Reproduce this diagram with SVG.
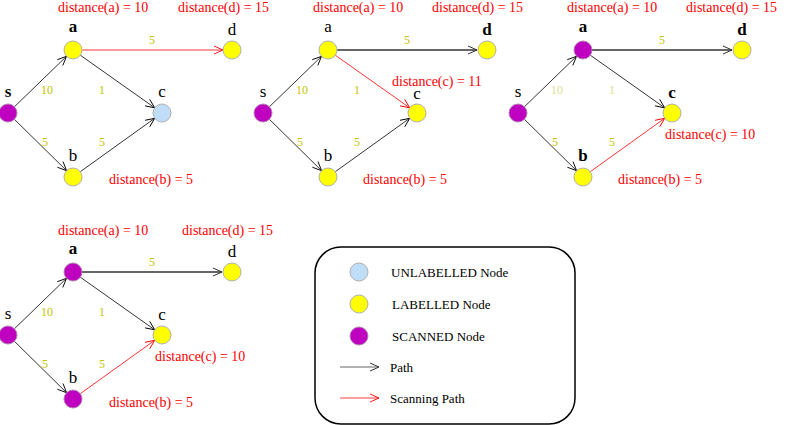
<svg xmlns="http://www.w3.org/2000/svg" width="800" height="425" viewBox="0 0 800 425">
<style>
text{font-family:"Liberation Serif","Times New Roman",serif}
.lbl{font-size:17px;fill:#000;text-anchor:middle}
.b{font-weight:bold}
.w{font-size:12px;fill:#c4c400;text-anchor:middle}
.wp{fill:#dede90}
.dist{font-size:14px;fill:#ff0000}
.leg{font-size:13px;fill:#000}
.e{fill:none;stroke:#000;stroke-width:0.8}
.er{fill:none;stroke:#ff0000;stroke-width:0.8}
.eg{fill:none;stroke:#666;stroke-width:2}
.un{fill:#c0ddf8;stroke:#b0b0b0;stroke-width:1}
.la{fill:#ffff00;stroke:#b0b0b0;stroke-width:1}
.sc{fill:#c000c0;stroke:#b080b0;stroke-width:1}
</style>
<defs>
<marker id="ak" markerUnits="userSpaceOnUse" markerWidth="12" markerHeight="10" refX="0" refY="0" viewBox="-10 -5 12 10" orient="auto" overflow="visible"><path d="M-9,-4 L0,0 L-9,4" fill="none" stroke="#000" stroke-width="0.9"/></marker>
<marker id="ar" markerUnits="userSpaceOnUse" markerWidth="12" markerHeight="10" refX="0" refY="0" viewBox="-10 -5 12 10" orient="auto" overflow="visible"><path d="M-9,-4 L0,0 L-9,4" fill="none" stroke="#ff0000" stroke-width="0.9"/></marker>
<marker id="ag" markerUnits="userSpaceOnUse" markerWidth="12" markerHeight="10" refX="0" refY="0" viewBox="-10 -5 12 10" orient="auto" overflow="visible"><path d="M-9,-4 L0,0 L-9,4" fill="none" stroke="#333" stroke-width="1"/></marker>
</defs>

<!-- Graph 1 -->
<g id="graph1">
<g id="g1-connectors">
<line class="e" x1="14.5" y1="106.7" x2="66.5" y2="56.3" marker-end="url(#ak)"/>
<line class="e" x1="80.3" y1="55.2" x2="154.7" y2="107.8" marker-end="url(#ak)"/>
<line class="e" x1="14.4" y1="119.3" x2="66.6" y2="170.7" marker-end="url(#ak)"/>
<line class="e" x1="80.3" y1="171.7" x2="154.7" y2="118.3" marker-end="url(#ak)"/>
<line class="er" x1="82" y1="50" x2="223" y2="50" marker-end="url(#ar)"/>
<text class="w" x="152" y="44">5</text>
<text class="w" x="47" y="94">10</text>
<text class="w" x="102" y="94">1</text>
<text class="w" x="45" y="146">5</text>
<text class="w" x="102" y="146">5</text>
</g>
<g id="g1-s"><circle class="sc" cx="8" cy="113" r="9"/><text class="lbl b" x="8" y="97">s</text></g>
<g id="g1-a"><circle class="la" cx="73" cy="50" r="9"/><text class="lbl b" x="73" y="32">a</text></g>
<g id="g1-d"><circle class="la" cx="232" cy="50" r="9"/><text class="lbl" x="232" y="35">d</text></g>
<g id="g1-c"><circle class="un" cx="162" cy="113" r="9"/><text class="lbl" x="162" y="97">c</text></g>
<g id="g1-b"><circle class="la" cx="73" cy="177" r="9"/><text class="lbl" x="73" y="161">b</text></g>
<text class="dist" x="58" y="12">distance(a) = 10</text>
<text class="dist" x="178" y="12">distance(d) = 15</text>
<text class="dist" x="109" y="184">distance(b) = 5</text>
</g>

<!-- Graph 2 -->
<g id="graph2" transform="translate(255,0)">
<g id="g2-connectors">
<line class="e" x1="14.5" y1="106.7" x2="66.5" y2="56.3" marker-end="url(#ak)"/>
<line class="er" x1="80.3" y1="55.2" x2="154.7" y2="107.8" marker-end="url(#ar)"/>
<line class="e" x1="14.4" y1="119.3" x2="66.6" y2="170.7" marker-end="url(#ak)"/>
<line class="e" x1="80.3" y1="171.7" x2="154.7" y2="118.3" marker-end="url(#ak)"/>
<line class="eg" x1="82" y1="50" x2="222" y2="50" marker-end="url(#ag)"/>
<text class="w" x="152" y="44">5</text>
<text class="w" x="47" y="94">10</text>
<text class="w" x="102" y="94">1</text>
<text class="w" x="45" y="146">5</text>
<text class="w" x="102" y="146">5</text>
</g>
<g id="g2-s"><circle class="sc" cx="8" cy="113" r="9"/><text class="lbl" x="8" y="97">s</text></g>
<g id="g2-a"><circle class="la" cx="73" cy="50" r="9"/><text class="lbl" x="73" y="32">a</text></g>
<g id="g2-d"><circle class="la" cx="232" cy="50" r="9"/><text class="lbl b" x="232" y="35">d</text></g>
<g id="g2-c"><circle class="la" cx="162" cy="113" r="9"/><text class="lbl" x="162" y="99">c</text></g>
<g id="g2-b"><circle class="la" cx="73" cy="177" r="9"/><text class="lbl" x="73" y="161">b</text></g>
<text class="dist" x="58" y="12">distance(a) = 10</text>
<text class="dist" x="177" y="12">distance(d) = 15</text>
<text class="dist" x="137" y="86">distance(c) = 11</text>
<text class="dist" x="108" y="184">distance(b) = 5</text>
</g>

<!-- Graph 3 -->
<g id="graph3" transform="translate(510,0)">
<g id="g3-connectors">
<line class="e" x1="14.5" y1="106.7" x2="66.5" y2="56.3" marker-end="url(#ak)"/>
<line class="e" x1="80.3" y1="55.2" x2="154.7" y2="107.8" marker-end="url(#ak)"/>
<line class="e" x1="14.4" y1="119.3" x2="66.6" y2="170.7" marker-end="url(#ak)"/>
<line class="er" x1="80.3" y1="171.7" x2="154.7" y2="118.3" marker-end="url(#ar)"/>
<line class="eg" x1="82" y1="50" x2="222" y2="50" marker-end="url(#ag)"/>
<text class="w" x="152" y="44">5</text>
<text class="w wp" x="47" y="94">10</text>
<text class="w wp" x="102" y="94">1</text>
<text class="w" x="45" y="146">5</text>
<text class="w" x="102" y="146">5</text>
</g>
<g id="g3-s"><circle class="sc" cx="8" cy="113" r="9"/><text class="lbl" x="8" y="97">s</text></g>
<g id="g3-a"><circle class="sc" cx="73" cy="50" r="9"/><text class="lbl b" x="73" y="32">a</text></g>
<g id="g3-d"><circle class="la" cx="232" cy="50" r="9"/><text class="lbl b" x="232" y="35">d</text></g>
<g id="g3-c"><circle class="la" cx="162" cy="113" r="9"/><text class="lbl b" x="162" y="98">c</text></g>
<g id="g3-b"><circle class="la" cx="73" cy="177" r="9"/><text class="lbl b" x="73" y="161">b</text></g>
<text class="dist" x="57" y="12">distance(a) = 10</text>
<text class="dist" x="176" y="12">distance(d) = 15</text>
<text class="dist" x="155" y="139">distance(c) = 10</text>
<text class="dist" x="108" y="184">distance(b) = 5</text>
</g>

<!-- Graph 4 -->
<g id="graph4" transform="translate(0,222)">
<g id="g4-connectors">
<line class="e" x1="14.5" y1="106.7" x2="66.5" y2="56.3" marker-end="url(#ak)"/>
<line class="e" x1="80.3" y1="55.2" x2="154.7" y2="107.8" marker-end="url(#ak)"/>
<line class="e" x1="14.4" y1="119.3" x2="66.6" y2="170.7" marker-end="url(#ak)"/>
<line class="er" x1="80.3" y1="171.7" x2="154.7" y2="118.3" marker-end="url(#ar)"/>
<line class="eg" x1="82" y1="50" x2="222" y2="50" marker-end="url(#ag)"/>
<text class="w" x="152" y="44">5</text>
<text class="w" x="47" y="94">10</text>
<text class="w" x="102" y="94">1</text>
<text class="w" x="45" y="146">5</text>
<text class="w" x="102" y="146">5</text>
</g>
<g id="g4-s"><circle class="sc" cx="8" cy="113" r="9"/><text class="lbl" x="8" y="97">s</text></g>
<g id="g4-a"><circle class="sc" cx="73" cy="50" r="9"/><text class="lbl b" x="73" y="32">a</text></g>
<g id="g4-d"><circle class="la" cx="232" cy="50" r="9"/><text class="lbl" x="232" y="35">d</text></g>
<g id="g4-c"><circle class="la" cx="162" cy="113" r="9"/><text class="lbl" x="162" y="98">c</text></g>
<g id="g4-b"><circle class="sc" cx="73" cy="177" r="9"/><text class="lbl" x="73" y="161">b</text></g>
<text class="dist" x="58" y="13">distance(a) = 10</text>
<text class="dist" x="182" y="13">distance(d) = 15</text>
<text class="dist" x="155" y="139">distance(c) = 10</text>
<text class="dist" x="109" y="185">distance(b) = 5</text>
</g>

<!-- Legend -->
<g id="legend">
<rect x="315" y="247" width="260" height="177" rx="26" ry="26" fill="#fff" stroke="#000" stroke-width="1.5"/>
<g id="leg-unlabelled"><circle class="un" cx="359" cy="272" r="9"/><text class="leg" x="391" y="277">UNLABELLED Node</text></g>
<g id="leg-labelled"><circle class="la" cx="359" cy="304" r="9"/><text class="leg" x="392" y="309">LABELLED Node</text></g>
<g id="leg-scanned"><circle class="sc" cx="359" cy="336" r="9"/><text class="leg" x="392" y="341">SCANNED Node</text></g>
<g id="leg-path"><line x1="340" y1="367" x2="379" y2="367" stroke="#666" stroke-width="1.2" marker-end="url(#ag)"/><text class="leg" x="390" y="372">Path</text></g>
<g id="leg-scan"><line x1="340" y1="398" x2="379" y2="398" stroke="#ff4040" stroke-width="1.2" marker-end="url(#ar)"/><text class="leg" x="390" y="403">Scanning Path</text></g>
</g>
</svg>
